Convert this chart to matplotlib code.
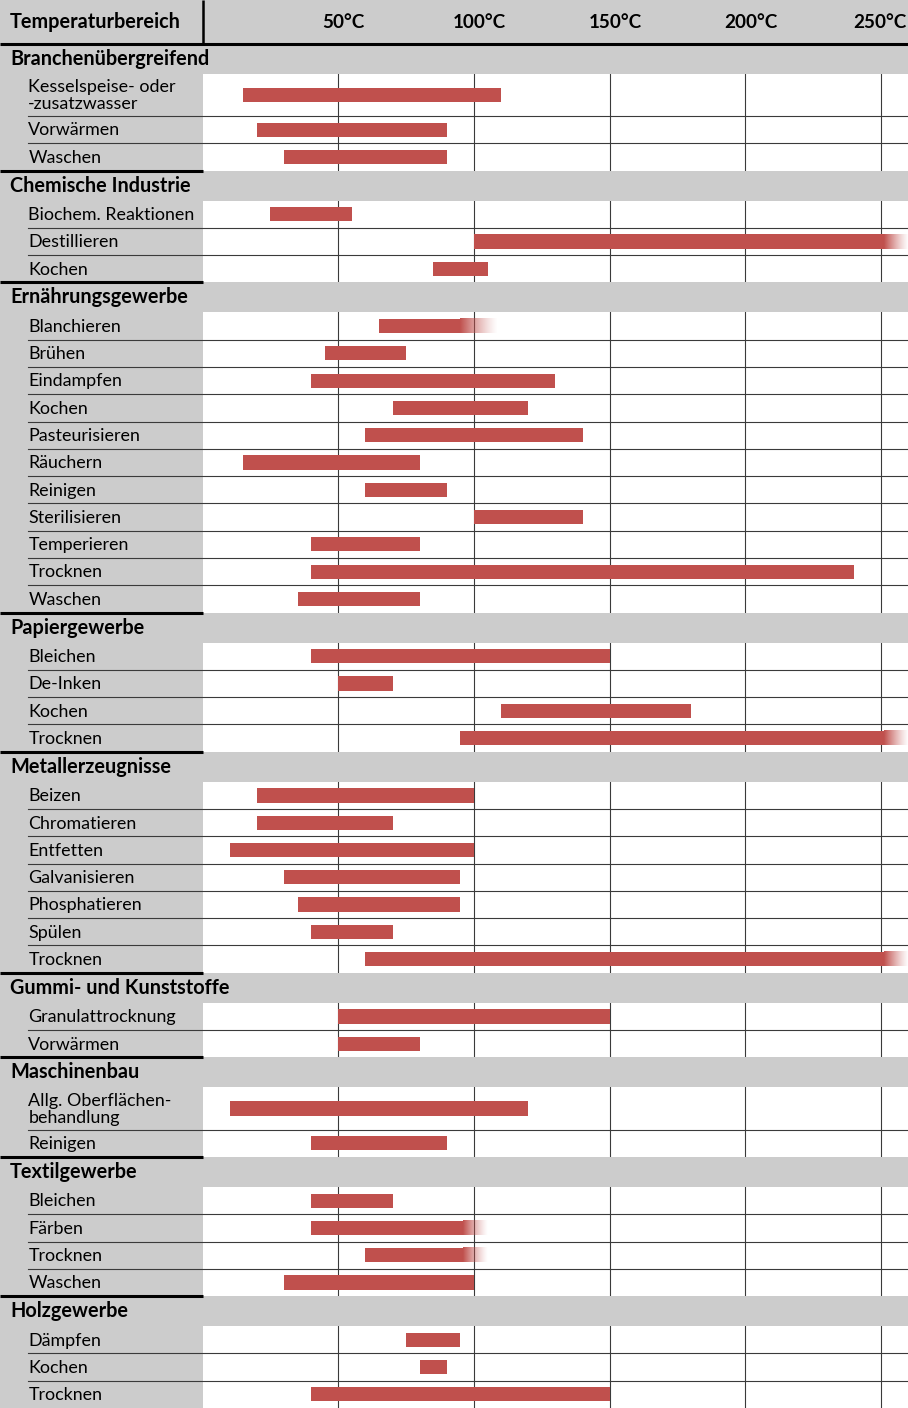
import matplotlib
matplotlib.use('Agg')
import matplotlib.pyplot as plt
import numpy as np
from matplotlib.colors import to_rgb

# ---------------- data ----------------
header_label = 'Temperaturbereich'
ticks = [50, 100, 150, 200, 250]
tick_labels = ['50°C', '100°C', '150°C', '200°C', '250°C']

categories = ['Branchenübergreifend', 'Chemische Industrie', 'Ernährungsgewerbe',
              'Papiergewerbe', 'Metallerzeugnisse', 'Gummi- und Kunststoffe',
              'Maschinenbau', 'Textilgewerbe', 'Holzgewerbe']

items = [
    ['Kesselspeise- oder\n-zusatzwasser', 'Vorwärmen', 'Waschen'],
    ['Biochem. Reaktionen', 'Destillieren', 'Kochen'],
    ['Blanchieren', 'Brühen', 'Eindampfen', 'Kochen', 'Pasteurisieren', 'Räuchern',
     'Reinigen', 'Sterilisieren', 'Temperieren', 'Trocknen', 'Waschen'],
    ['Bleichen', 'De-Inken', 'Kochen', 'Trocknen'],
    ['Beizen', 'Chromatieren', 'Entfetten', 'Galvanisieren', 'Phosphatieren', 'Spülen', 'Trocknen'],
    ['Granulattrocknung', 'Vorwärmen'],
    ['Allg. Oberflächen-\nbehandlung', 'Reinigen'],
    ['Bleichen', 'Färben', 'Trocknen', 'Waschen'],
    ['Dämpfen', 'Kochen', 'Trocknen'],
]

starts = [
    [15, 20, 30],
    [25, 100, 85],
    [65, 45, 40, 70, 60, 15, 60, 100, 40, 40, 35],
    [40, 50, 110, 95],
    [20, 20, 10, 30, 35, 40, 60],
    [50, 50],
    [10, 40],
    [40, 40, 60, 30],
    [75, 80, 40],
]

ends = [
    [110, 90, 90],
    [55, 260, 105],
    [109, 75, 130, 120, 140, 80, 90, 140, 80, 240, 80],
    [150, 70, 180, 260],
    [100, 70, 100, 95, 95, 70, 260],
    [150, 80],
    [120, 90],
    [70, 105, 105, 100],
    [95, 90, 150],
]

# length (°C) of the fading tail at the end of a bar, 0 = solid end
fades = [
    [0, 0, 0],
    [0, 9, 0],
    [14, 0, 0, 0, 0, 0, 0, 0, 0, 0, 0],
    [0, 0, 0, 9],
    [0, 0, 0, 0, 0, 0, 9],
    [0, 0],
    [0, 0],
    [0, 9, 9, 0],
    [0, 0, 0],
]

# ---------------- style ----------------
FONT = ['Lato', 'DejaVu Sans']
plt.rcParams['font.family'] = FONT
GRAY = '#CCCCCC'
BAR = '#C0504D'
LINE = '#3A3A3A'
H_HEAD, H_CAT, H_ROW, H_ROW2 = 1.6, 1.1, 1.0, 1.55
BAR_H = 0.52
XMIN, XMAX = -74.65, 259.9
X_CAT_TXT = -71.0
X_ITEM_TXT = -64.2

fig = plt.figure(figsize=(9.08, 14.08), dpi=100)
ax = fig.add_axes([0, 0, 1, 1])
ax.set_axis_off()

# layout
y = H_HEAD
cat_rows = []
item_rows = []
for ci, cat in enumerate(categories):
    cat_rows.append((y, H_CAT))
    y += H_CAT
    rows = []
    for it in items[ci]:
        h = H_ROW2 if '\n' in it else H_ROW
        rows.append((y, h))
        y += h
    item_rows.append(rows)
TOTAL = y

# gray left column and header band
ax.axvspan(XMIN, 0, color=GRAY, zorder=1, lw=0)
ax.fill_between([XMIN, XMAX], 0, H_HEAD, color=GRAY, zorder=1, lw=0)

# vertical grid lines
for t in ticks:
    ax.plot([t, t], [H_HEAD, TOTAL], color=LINE, lw=0.8, zorder=2)

# category bands
for (top, h) in cat_rows:
    ax.fill_between([XMIN, XMAX], top, top + h, color=GRAY, zorder=3, lw=0)

# row separators
for rows in item_rows:
    for (top, h) in rows[1:]:
        ax.plot([X_ITEM_TXT, XMAX], [top, top], color=LINE, lw=0.8, zorder=3)

# bars
rgb = to_rgb(BAR)
for ci in range(len(categories)):
    for ri, (top, h) in enumerate(item_rows[ci]):
        yc = top + h / 2
        s, e, f = starts[ci][ri], ends[ci][ri], fades[ci][ri]
        solid_end = e - f
        ax.barh(yc, solid_end - s, left=s, height=BAR_H, color=BAR, lw=0, zorder=4)
        if f > 0:
            n = 256
            img = np.zeros((1, n, 4))
            img[..., 0], img[..., 1], img[..., 2] = rgb
            img[..., 3] = np.linspace(1, 0, n) ** 1.3
            ax.imshow(img, extent=(solid_end, e, yc + BAR_H / 2, yc - BAR_H / 2),
                      aspect='auto', interpolation='bilinear', zorder=4)

# thick lines
ax.plot([XMIN, XMAX], [H_HEAD, H_HEAD], color='black', lw=2.2, zorder=6, solid_capstyle='butt')
ax.plot([0, 0], [0, H_HEAD], color='black', lw=1.8, zorder=6, solid_capstyle='butt')
for ci, rows in enumerate(item_rows[:-1]):
    top, h = rows[-1]
    ax.plot([XMIN, 0], [top + h, top + h], color='black', lw=2.2, zorder=6, solid_capstyle='butt')

# texts
ax.text(X_CAT_TXT, H_HEAD / 2, header_label, fontsize=14.3, fontweight='bold',
        va='center', ha='left', zorder=7)
for t, lab in zip(ticks, tick_labels):
    xx = t + 2 if t < 250 else t - 0.5
    ax.text(xx, H_HEAD / 2 + 0.02, lab, fontsize=13.6, fontweight='bold',
            va='center', ha='center', zorder=7)
for ci, cat in enumerate(categories):
    top, h = cat_rows[ci]
    ax.text(X_CAT_TXT, top + h / 2, cat, fontsize=14.3, fontweight='bold',
            va='center', ha='left', zorder=7)
    for ri, (rt, rh) in enumerate(item_rows[ci]):
        ax.text(X_ITEM_TXT, rt + rh / 2 + 0.03, items[ci][ri], fontsize=12.9,
                va='center', ha='left', linespacing=1.08, zorder=7)

ax.set_xlim(XMIN, XMAX)
ax.set_ylim(TOTAL, 0)
fig.savefig('out.png', dpi=100, facecolor='white')
